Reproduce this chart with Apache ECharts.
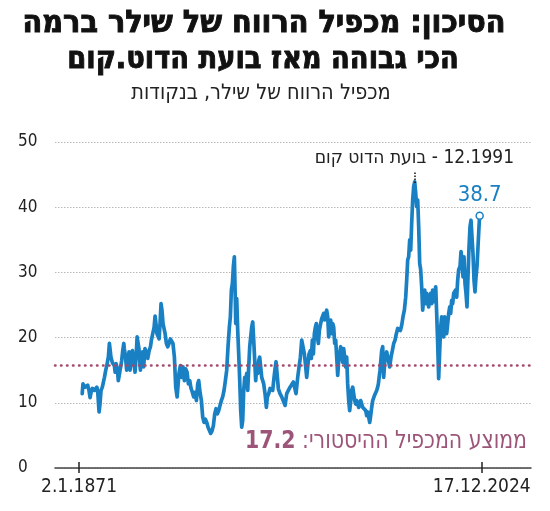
<!DOCTYPE html>
<html><head><meta charset="utf-8">
<script src="https://cdn.jsdelivr.net/npm/echarts@6/dist/echarts.min.js"></script>
<style>html,body{margin:0;padding:0;background:#fff}#main{width:550px;height:511px;direction:rtl}</style>
</head><body><div id="main"></div>
<script>
// ---- data ----
const capeYears = [
1872.2,1872.5,1873.3,1874.3,1874.8,1875.2,1875.6,1876.1,1876.9,1877.4,1877.8,1878.1,1878.65,1879.0,1879.4,1879.9,
1880.7,1881.2,1881.6,1882.0,1882.2,1882.6,1883.0,1883.2,1883.7,1884.1,1884.5,1884.8,1885.15,1885.65,1886.0,1886.4,
1886.9,1887.3,1887.7,1888.1,1888.3,1888.7,1889.2,1889.6,1890.1,1890.5,1890.9,1891.4,1891.9,1892.4,1892.8,1893.2,
1893.6,1893.9,1894.45,1894.8,1895.3,1895.7,1896.2,1896.7,1897.25,1897.8,1898.3,1898.65,1899.2,1899.7,1900.06,1900.4,
1900.8,1901.2,1901.6,1902.0,1902.35,1902.7,1903.1,1903.5,1903.9,1904.4,1904.9,1905.4,1905.9,1906.4,1906.9,1907.45,
1907.96,1908.5,
1909.2,1909.74,1910.25,1910.76,1911.27,1911.78,1912.29,1912.8,1913.31,1913.82,1914.33,1914.84,1915.35,1915.86,1916.37,1916.75,
1917.26,1917.77,1918.28,1918.79,1919.3,1919.81,1920.32,1920.83,1921.34,1921.85,1922.36,1922.87,1923.38,1923.89,1924.4,1924.91,
1925.41,1925.92,1926.43,1926.94,1927.45,1927.96,1928.47,1928.85,1929.24,1929.62,1930.0,1930.38,1930.77,1930.9,1931.28,1931.66,
1932.04,1932.43,1932.81,1933.19,1933.57,1933.95,1934.34,1934.72,1935.1,1935.49,1935.87,1936.25,1936.63,1937.01,1937.4,1937.78,
1938.16,1938.54,1938.92,1939.31,1939.69,1940.07,1940.45,1940.84,1941.22,1941.6,1942.11,1942.62,1943.0,1943.51,1944.02,1944.53,
1945.04,1945.55,1945.93,1946.31,1946.57,
1947.2,1947.84,1948.48,1949.12,1949.76,1950.39,1951.03,1951.67,1952.31,1952.94,1953.58,1953.96,1954.6,1955.11,1955.62,1956.13,
1956.64,1957.15,1957.66,1958.04,1958.42,1958.93,1959.44,1959.82,1960.2,1960.59,1960.97,1961.35,1961.73,1962.12,1962.5,1962.88,
1963.26,1963.77,1964.15,1964.54,1964.92,1965.3,1965.68,1966.07,1966.45,1966.83,1967.21,1967.6,1967.98,1968.36,1968.74,1969.13,
1969.51,1969.89,1970.27,1970.65,1971.04,1971.42,1971.8,1972.18,1972.57,1972.95,1973.33,1973.71,1974.1,1974.48,1974.86,1975.24,
1975.63,1976.01,1976.39,1976.77,1977.16,1977.54,1977.92,1978.3,1978.68,1979.07,1979.45,1979.83,1980.21,1980.6,1980.98,1981.36,
1981.74,1982.13,1982.51,1982.89,1983.27,1983.65,1984.04,1984.42,1984.8,1985.18,
1985.44,1986.07,1986.71,1987.1,1987.48,1987.99,1988.62,1989.26,1989.77,1990.28,1990.79,1991.3,1991.81,1992.32,1992.83,1993.34,
1993.85,1994.36,1994.87,1995.38,1995.89,1996.27,1996.65,1997.03,1997.42,1997.8,1998.18,1998.56,1998.95,1999.33,1999.71,2000.09,
2000.48,2000.86,2001.24,2001.62,2002.0,2002.39,2002.77,2003.15,2003.53,2003.92,2004.3,2004.68,2005.06,2005.45,2005.83,2006.21,
2006.59,2006.98,2007.36,2007.74,2008.12,2008.5,2008.89,2009.27,2009.65,2010.03,2010.42,2010.8,2011.18,2011.56,2011.95,2012.33,
2012.71,2013.09,2013.47,2013.86,2014.24,2014.62,2015.0,2015.39,2015.77,2016.15,2016.66,2017.04,2017.42,2017.8,2018.19,2018.57,
2018.95,2019.33,2019.71,2020.1,2020.48,2020.86,2021.24,2021.62,2022.01,2022.39,2022.77,2023.15,2023.53,2023.92,2024.17
];
const capeValues = [
11.4,12.9,12.4,12.7,11.9,10.8,11.6,12.2,11.9,12.2,12.4,11.9,8.6,9.8,11.9,12.4,
13.9,15.0,15.7,15.5,17.0,19.1,19.3,17.0,16.2,16.5,15.7,14.7,16.0,15.2,13.4,13.7,
15.5,16.5,18.0,19.1,18.3,17.3,15.0,16.0,17.8,15.0,17.0,18.0,17.8,14.7,17.0,20.1,
20.35,18.3,15.0,17.0,17.8,15.5,18.3,17.8,16.8,18.0,18.6,19.6,19.8,21.6,23.3,22.15,
20.6,20.9,19.8,22.4,25.2,24.2,22.15,21.9,20.6,19.1,18.6,19.1,19.8,20.1,19.1,17.0,
12.4,10.9,
14.5,15.7,13.9,15.5,13.4,15.2,14.7,12.9,13.4,12.2,11.6,10.9,11.6,10.35,12.9,13.4,
11.6,10.35,7.8,7.0,7.5,7.0,6.25,6.0,5.3,5.7,6.5,8.3,9.1,8.3,8.8,9.6,
10.35,10.9,11.9,13.4,15.0,18.6,21.6,23.2,27.3,28.3,30.9,32.4,25.2,22.15,26.0,21.1,
17.5,13.4,8.8,6.25,7.3,11.9,13.9,13.4,14.5,11.9,15.5,18.6,20.1,21.6,22.4,19.6,
16.5,13.4,15.5,14.5,16.5,17.0,15.5,13.9,13.4,12.9,11.4,9.3,10.9,11.4,12.2,12.4,
11.9,13.9,15.2,16.3,16.0,
12.15,11.4,10.9,10.6,9.6,11.4,11.9,12.4,12.7,13.2,13.4,11.4,13.9,15.5,17.0,19.6,
19.3,17.5,15.5,13.9,15.5,17.5,18.0,16.8,19.6,17.5,20.6,21.6,22.15,20.1,19.1,21.1,
21.9,22.9,23.2,23.7,22.7,23.7,24.2,23.2,20.1,21.6,22.7,20.6,22.15,21.6,19.1,19.6,
17.0,14.2,16.5,17.5,18.6,18.3,16.2,18.3,17.0,15.5,17.0,12.9,10.35,8.8,10.35,11.9,
12.4,11.4,10.35,9.8,10.35,10.1,9.3,9.6,10.35,9.8,9.3,9.1,9.6,8.8,8.05,8.6,
7.8,7.0,8.05,9.3,10.35,10.6,11.2,11.4,11.9,12.4,
12.9,15.0,18.0,18.6,13.9,17.0,17.8,18.0,15.5,17.0,18.0,19.1,19.6,20.6,21.4,21.6,
21.1,21.9,23.2,24.2,26.2,28.8,31.9,32.4,35.0,33.4,37.5,41.1,43.2,43.9,42.15,40.1,
41.1,37.0,31.4,30.4,27.8,24.2,26.2,27.3,25.2,26.8,25.7,24.7,26.2,26.8,25.2,27.3,
26.8,25.5,27.8,23.7,19.1,13.7,18.0,21.6,23.2,21.1,20.1,23.2,21.6,20.6,22.15,23.7,
24.7,23.7,25.7,25.2,26.8,26.5,27.3,26.2,28.8,30.4,30.9,33.2,31.9,29.3,32.4,28.3,
26.8,24.7,29.3,33.9,37.0,38.0,38.3,32.9,28.8,27.0,29.3,30.9,33.9,37.0,38.7
];
const xTickValues = [1871, 2024.96];
const xTickLabels = ['2.1.1871', '17.12.2024'];
const meanLineValue = 15.8;
const meanText = 'ממוצע המכפיל ההיסטורי: ';
const meanNumber = '17.2';
const peakYear = 1999.2;
const peakText = '12.1991 - בועת הדוט קום';
const titleLines = ['הסיכון: מכפיל הרווח של שילר ברמה', 'הכי גבוהה מאז בועת הדוט.קום'];
const subtitleText = 'מכפיל הרווח של שילר, בנקודות';

// ---- chart ----
const BLUE = '#1a80c4';
const MAUVE = '#9c5579';
const NARROW = "'DejaVu Sans Condensed', 'DejaVu Sans', sans-serif";
const HEAVY = "'DejaVu Sans Condensed', 'DejaVu Sans', sans-serif";

const lineData = capeYears.map((y, i) => [y, capeValues[i]]);
const last = lineData[lineData.length - 1];

const chart = echarts.init(document.getElementById('main'), null, {renderer: 'canvas'});
const option = {
  animation: false,
  backgroundColor: '#ffffff',
  grid: {left: 55, right: 19, top: 142, bottom: 43},
  xAxis: [{
    type: 'value', min: 1861.8, max: 2043.8,
    axisLine: {show: true, lineStyle: {color: '#444', width: 1.5}},
    axisTick: {show: true, customValues: xTickValues, length: 5, inside: false, lineStyle: {color: '#222', width: 1.5}},
    axisLabel: {show: true, customValues: xTickValues, margin: 10, fontSize: 19, fontFamily: NARROW, color: '#222',
      formatter: v => { const i = xTickValues.indexOf(v); return i >= 0 ? xTickLabels[i] : ''; }},
    splitLine: {show: false}
  }, {
    type: 'value', min: 1861.8, max: 2043.8, position: 'bottom',
    axisLine: {show: false},
    axisTick: {show: true, customValues: xTickValues, length: 6, inside: true, lineStyle: {color: '#222', width: 1.5}},
    axisLabel: {show: false},
    splitLine: {show: false}
  }],
  yAxis: {
    type: 'value', min: 0, max: 50, interval: 10,
    axisLine: {show: false}, axisTick: {show: false},
    axisLabel: {margin: 37, align: 'left', fontSize: 17, fontFamily: NARROW, color: '#222'},
    splitLine: {show: true, lineStyle: {color: '#b8b8b8', width: 1, type: [1.5, 1.5]}}
  },
  graphic: [
    {type: 'text', x: 264, y: 24, scaleX: 1.03, style: {text: titleLines[0], align: 'center', verticalAlign: 'middle',
      fontFamily: HEAVY, fontWeight: 'bold', fontSize: 31, fill: '#111', stroke: '#111', lineWidth: 0.9}},
    {type: 'text', x: 263, y: 60, scaleX: 0.98, style: {text: titleLines[1], align: 'center', verticalAlign: 'middle',
      fontFamily: HEAVY, fontWeight: 'bold', fontSize: 31, fill: '#111', stroke: '#111', lineWidth: 0.9}},
    {type: 'text', x: 261, y: 93, style: {text: subtitleText, align: 'center', verticalAlign: 'middle',
      fontFamily: NARROW, fontSize: 21.5, fill: '#222'}},
    {type: 'text', x: 527, y: 441, scaleX: 0.91, style: {
      text: '{b|' + meanNumber + '}{n|' + meanText + '}', align: 'right', verticalAlign: 'middle',
      rich: {
        b: {fontFamily: NARROW, fontWeight: 'bold', fontSize: 25, fill: MAUVE, color: MAUVE},
        n: {fontFamily: NARROW, fontSize: 25, fill: MAUVE, color: MAUVE}
      }}}
  ],
  series: [{
    type: 'line', xAxisIndex: 0, data: lineData, showSymbol: false, symbol: 'none',
    lineStyle: {color: BLUE, width: 3.7, join: 'round', cap: 'round'},
    z: 3,
    markLine: {
      silent: true, symbol: ['none', 'none'],
      data: [
        {yAxis: meanLineValue, lineStyle: {color: '#a3496c', width: 2.5, type: [0.5, 5.5], cap: 'round'}, label: {show: false}},
        [{coord: [peakYear, 43.7], lineStyle: {color: '#111', width: 1.5, type: [1.5, 1.5]},
          label: {show: true, position: 'end', distance: 4, formatter: peakText, fontSize: 19, fontFamily: NARROW, color: '#222'}},
         {coord: [peakYear, 45.4]}]
      ]
    },
    markPoint: {
      silent: true,
      data: [{coord: last, value: last[1], symbol: 'circle', symbolSize: 7,
        itemStyle: {color: '#fff', borderColor: BLUE, borderWidth: 1.5},
        label: {show: true, position: 'top', distance: 5, formatter: '{c}', fontSize: 22, fontFamily: NARROW, color: BLUE}}]
    }
  }]
};
chart.setOption(option);
</script></body></html>
